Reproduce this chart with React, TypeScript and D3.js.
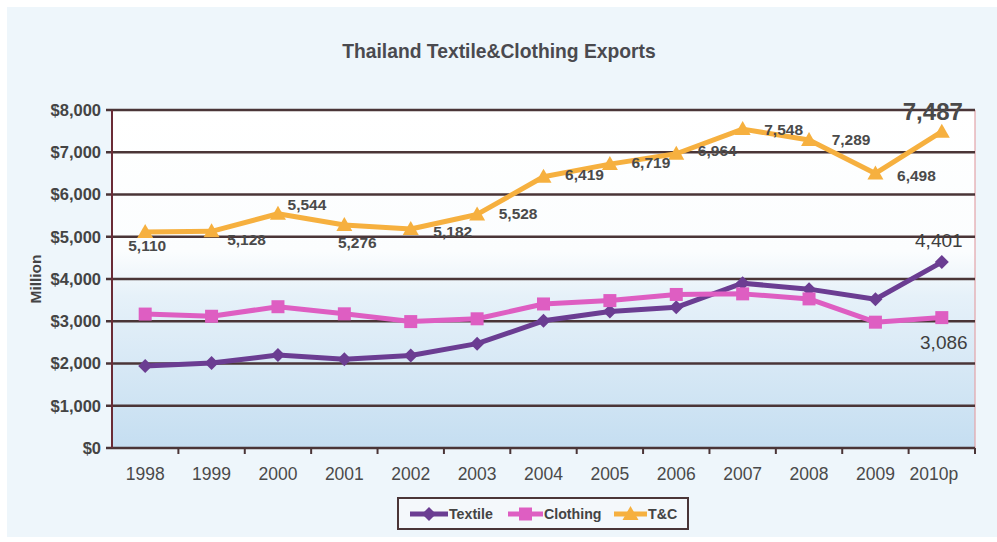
import * as d3 from 'd3'

const years = ['1998', '1999', '2000', '2001', '2002', '2003', '2004', '2005', '2006', '2007', '2008', '2009', '2010p']
const textile = [1940, 2010, 2200, 2100, 2190, 2470, 3010, 3230, 3330, 3900, 3760, 3520, 4401]
const clothing = [3170, 3118, 3344, 3176, 2992, 3058, 3409, 3489, 3634, 3648, 3529, 2978, 3086]
const tc = [5110, 5128, 5544, 5276, 5182, 5528, 6419, 6719, 6964, 7548, 7289, 6498, 7487]
const yTicks = [0, 1000, 2000, 3000, 4000, 5000, 6000, 7000, 8000]

// label offsets from each T&C point (dx, dy)
const tcLabelOffsets: [number, number][] = [
  [2, 13], [35, 8], [29, -9], [13, 17], [42, 2], [41, -1],
  [41, -2], [41, -2], [41, -3], [41, 0], [42, -1], [41, 2], [-9, -20]
]

const W = 997
const H = 542
const margin = { left: 112, right: 22, top: 110, bottom: 94 }

const colors = { textile: '#6b3d92', clothing: '#de5ec2', tc: '#f6b03f' }
const font = 'Arial, "Liberation Sans", sans-serif'

function Marker({ kind, x, y, color }: { kind: string; x: number; y: number; color: string }) {
  if (kind === 'diamond') {
    const r = 7
    return <path d={`M${x},${y - r}L${x + r},${y}L${x},${y + r}L${x - r},${y}Z`} fill={color} />
  }
  if (kind === 'square') {
    const s = 13
    return <rect x={x - s / 2} y={y - s / 2} width={s} height={s} fill={color} />
  }
  const r = 8
  return <path d={`M${x},${y - r}L${x + r},${y + r * 0.75}L${x - r},${y + r * 0.75}Z`} fill={color} />
}

export default function App() {
  const x = d3.scaleBand().domain(years).range([margin.left, W - margin.right])
  const y = d3.scaleLinear().domain([0, 8000]).range([H - margin.bottom, margin.top])
  const cx = (d: string) => (x(d) ?? 0) + x.bandwidth() / 2

  const line = d3.line<number>().x((_, i) => cx(years[i])).y(d => y(d))

  const series = [
    { name: 'Textile', values: textile, color: colors.textile, marker: 'diamond' },
    { name: 'Clothing', values: clothing, color: colors.clothing, marker: 'square' },
    { name: 'T&C', values: tc, color: colors.tc, marker: 'triangle' },
  ]

  const plotL = margin.left
  const plotR = W - margin.right
  const plotT = y(8000)
  const plotB = y(0)
  const last = years.length - 1

  const legendItems = [
    { name: 'Textile', color: colors.textile, marker: 'diamond', x0: 410, x1: 448 },
    { name: 'Clothing', color: colors.clothing, marker: 'square', x0: 508, x1: 543 },
    { name: 'T&C', color: colors.tc, marker: 'triangle', x0: 614, x1: 647 },
  ]

  return (
    <svg width={W} height={H} style={{ position: 'absolute', left: 0, top: 0 }} fontFamily={font}>
      <defs>
        <linearGradient id="plotBg" x1="0" y1="0" x2="0" y2="1">
          <stop offset="0" stopColor="#ffffff" />
          <stop offset="0.42" stopColor="#fbfdfe" />
          <stop offset="0.55" stopColor="#e6f1f9" />
          <stop offset="1" stopColor="#c5def1" />
        </linearGradient>
      </defs>
      <rect width={W} height={H} fill="#ffffff" />
      <rect x={7} y={7} width={W - 7} height={H - 12} fill="#eef6fb" />

      <text x={499} y={58} textAnchor="middle" fontSize={19.3} fontWeight="bold" fill="#4a4a4f">
        Thailand Textile&amp;Clothing Exports
      </text>

      <rect x={plotL} y={plotT} width={plotR - plotL} height={plotB - plotT} fill="url(#plotBg)" />
      <line x1={plotR} x2={plotR} y1={plotT} y2={plotB} stroke="#e3a3a8" strokeWidth={1.2} />

      {yTicks.map(t => (
        <g key={t}>
          <line x1={plotL - 6} x2={plotR} y1={y(t)} y2={y(t)} stroke="#4a3537" strokeWidth={2.4} />
          <text x={101} y={y(t)} dy="0.36em" textAnchor="end" fontSize={16.5} fontWeight="bold" fill="#444">
            {'$' + d3.format(',')(t)}
          </text>
        </g>
      ))}
      <line x1={plotL} x2={plotL} y1={plotT} y2={plotB} stroke="#6a2b36" strokeWidth={2} />

      {years.map((yr, i) => (
        <g key={yr}>
          <line x1={(x(yr) ?? 0) + x.bandwidth()} x2={(x(yr) ?? 0) + x.bandwidth()} y1={plotB} y2={plotB + 6} stroke="#4a3537" strokeWidth={2} />
          <text x={cx(yr) + (i === last ? -8 : 0)} y={480} textAnchor="middle" fontSize={17.5} fill="#4a4a4a">
            {yr}
          </text>
        </g>
      ))}

      <text transform={`translate(41,${(plotT + plotB) / 2}) rotate(-90)`} textAnchor="middle" fontSize={15.5} fontWeight="bold" fill="#444">
        Million
      </text>

      {series.map(s => (
        <g key={s.name}>
          <path d={line(s.values) ?? ''} fill="none" stroke={s.color} strokeWidth={5} strokeLinejoin="round" />
          {s.values.map((v, i) => (
            <Marker key={i} kind={s.marker} x={cx(years[i])} y={y(v)} color={s.color} />
          ))}
        </g>
      ))}

      {tc.map((v, i) => (
        <text
          key={i}
          x={cx(years[i]) + tcLabelOffsets[i][0]}
          y={y(v) + tcLabelOffsets[i][1]}
          dy="0.36em"
          textAnchor="middle"
          fontSize={i === last ? 24 : 15.5}
          fontWeight="bold"
          fill="#4a4a4a"
        >
          {d3.format(',')(v)}
        </text>
      ))}
      <text x={cx(years[last]) - 3} y={y(textile[last]) - 22} dy="0.36em" textAnchor="middle" fontSize={19} fill="#3f3f3f">
        {d3.format(',')(textile[last])}
      </text>
      <text x={cx(years[last]) + 2} y={y(clothing[last]) + 25} dy="0.36em" textAnchor="middle" fontSize={19} fill="#3f3f3f">
        {d3.format(',')(clothing[last])}
      </text>

      <rect x={398} y={498} width={290} height={31} fill="#f4f8fb" stroke="#4a3537" strokeWidth={2} />
      {legendItems.map(it => (
        <g key={it.name}>
          <line x1={it.x0} x2={it.x1} y1={514} y2={514} stroke={it.color} strokeWidth={5} />
          <Marker kind={it.marker} x={(it.x0 + it.x1) / 2} y={514} color={it.color} />
          <text x={it.x1 + 1} y={514} dy="0.36em" fontSize={14.2} fontWeight="bold" fill="#444">
            {it.name}
          </text>
        </g>
      ))}
    </svg>
  )
}
